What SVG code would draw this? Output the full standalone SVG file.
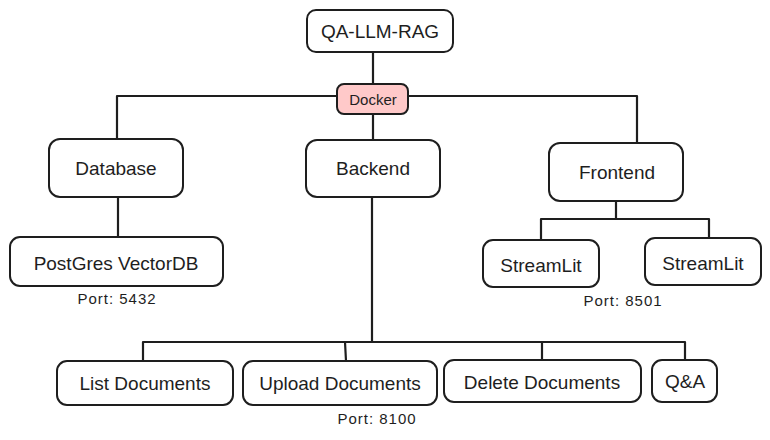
<svg xmlns="http://www.w3.org/2000/svg" width="770" height="440" viewBox="0 0 770 440">
<style>
.box{fill:#ffffff;stroke:#1e1e1e;stroke-width:2;}
.docker{fill:#ffc9c9;stroke:#1e1e1e;stroke-width:2;}
.lbl{font-family:"Liberation Sans",Arial,sans-serif;font-size:19px;fill:#1e1e1e;text-anchor:middle;dominant-baseline:central;}
.sm{font-family:"Liberation Sans",Arial,sans-serif;font-size:15px;fill:#1e1e1e;text-anchor:middle;dominant-baseline:central;}
.port{font-family:"Liberation Sans",Arial,sans-serif;font-size:15px;letter-spacing:1px;fill:#1e1e1e;text-anchor:middle;dominant-baseline:central;}
.ln{fill:none;stroke:#1e1e1e;stroke-width:2.2;stroke-linecap:round;stroke-linejoin:round;}
</style>
<rect width="770" height="440" fill="#ffffff"/>
<g id="connectors">
<path class="ln" d="M373 52 V84"/>
<path class="ln" d="M117 139 V96 H337"/>
<path class="ln" d="M408 96 H637 V143"/>
<path class="ln" d="M373 114 V140"/>
<path class="ln" d="M118 197 V237"/>
<path class="ln" d="M616 201 V219"/>
<path class="ln" d="M541 240 V219 H709 V238"/>
<path class="ln" d="M372 197 V342"/>
<path class="ln" d="M143 361 V342 H685 V360"/>
<path class="ln" d="M345 342 L346 361"/>
<path class="ln" d="M542 342 V360"/>
</g>
<g id="qa-llm-rag"><rect class="box" x="307" y="10" width="146" height="42" rx="9"/><text class="lbl" x="380" y="31">QA-LLM-RAG</text></g>
<g id="docker"><rect class="docker" x="337" y="84" width="71" height="30" rx="7"/><text class="sm" x="373" y="99">Docker</text></g>
<g id="database"><rect class="box" x="49" y="139" width="134" height="58" rx="11"/><text class="lbl" x="116" y="168">Database</text></g>
<g id="backend"><rect class="box" x="306" y="140" width="134" height="57" rx="11"/><text class="lbl" x="373" y="168">Backend</text></g>
<g id="frontend"><rect class="box" x="549" y="143" width="134" height="58" rx="11"/><text class="lbl" x="617" y="172">Frontend</text></g>
<g id="postgres"><rect class="box" x="10" y="237" width="213" height="49" rx="10"/><text class="lbl" x="116" y="263">PostGres VectorDB</text></g>
<text class="port" x="117" y="298">Port: 5432</text>
<g id="streamlit-1"><rect class="box" x="483" y="240" width="116" height="47" rx="10"/><text class="lbl" x="541" y="265">StreamLit</text></g>
<g id="streamlit-2"><rect class="box" x="645" y="238" width="116" height="47" rx="10"/><text class="lbl" x="703" y="263">StreamLit</text></g>
<text class="port" x="623" y="300">Port: 8501</text>
<g id="list-documents"><rect class="box" x="57" y="361" width="176" height="44" rx="10"/><text class="lbl" x="145" y="383">List Documents</text></g>
<g id="upload-documents"><rect class="box" x="243" y="361" width="194" height="44" rx="10"/><text class="lbl" x="340" y="383">Upload Documents</text></g>
<g id="delete-documents"><rect class="box" x="444" y="360" width="197" height="42" rx="10"/><text class="lbl" x="542" y="382">Delete Documents</text></g>
<g id="qa"><rect class="box" x="652" y="360" width="65" height="42" rx="10"/><text class="lbl" x="685" y="381">Q&amp;A</text></g>
<text class="port" x="377" y="418">Port: 8100</text>
</svg>
